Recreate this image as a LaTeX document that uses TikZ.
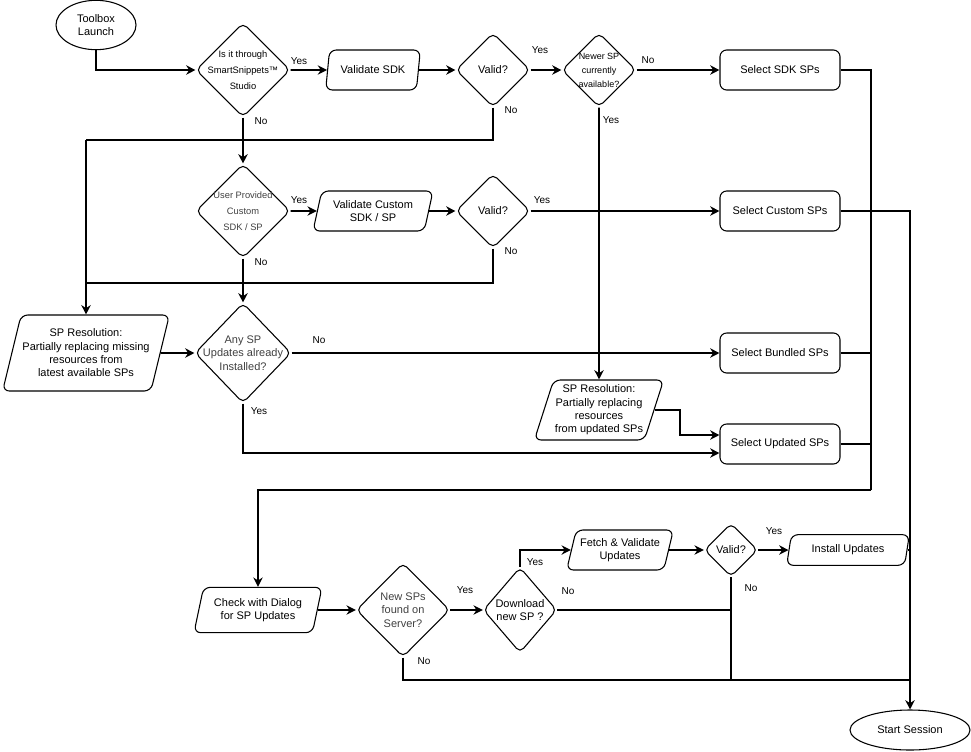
\documentclass[tikz,border=0pt]{standalone}
\usepackage{fontspec}
\setmainfont{Liberation Sans}
\usetikzlibrary{shapes.geometric,arrows.meta}

\tikzset{
  flow/.style={line width=1.4pt,-{Stealth[length=7pt,width=7pt]}},
  line/.style={line width=1.4pt},
  dia/.style={diamond,draw,line width=0.8pt,rounded corners=4pt,inner sep=0pt,minimum size=#1},
  io/.style={trapezium,trapezium left angle=70,trapezium right angle=110,trapezium stretches body,
    draw,line width=0.8pt,rounded corners=5pt,align=center,inner sep=1pt},
  act/.style={rectangle,draw,line width=0.8pt,rounded corners=5pt,minimum width=90pt,minimum height=30pt},
  term/.style={ellipse,draw,line width=0.8pt,align=center},
  txt/.style={align=center,font=\fontsize{8.25}{10}\selectfont},
  small/.style={align=center,font=\fontsize{7}{12}\selectfont},
  lbl/.style={font=\fontsize{7.5}{9}\selectfont}
}

\begin{document}
\begin{tikzpicture}[x=0.75pt,y=-0.75pt,txt]
  \useasboundingbox (0,0) rectangle (971,751);
  % shapes
  \node[term,minimum width=60pt,minimum height=37pt] (launch) at (96,25) {Toolbox\\Launch};
  \node[dia=70.5pt] (studio) at (243,70) {};
  \node[small] at (243,70) {Is it through\\SmartSnippets™\\Studio};
  \node[io,minimum width=71pt,minimum height=30pt] (valsdk) at (373,70) {Validate SDK};
  \node[dia=55.5pt] (valid1) at (493,70) {};
  \node at (493,70) {Valid?};
  \node[dia=55.5pt] (newer) at (599,70) {};
  \node[small,font=\fontsize{6.75}{10.5}\selectfont] at (599,70) {Newer SP\\currently\\available?};
  \node[act] (sdksp) at (780,70) {Select SDK SPs};
  \node[dia=70.5pt] (custom) at (243,211) {};
  \node[small,text=black!75] at (243,211) {User Provided\\Custom\\SDK / SP};
  \node[io,minimum width=90pt,minimum height=30pt] (valcust) at (373,211) {Validate Custom\\SDK / SP};
  \node[dia=55.5pt] (valid2) at (493,211) {};
  \node at (493,211) {Valid?};
  \node[act] (custsp) at (780,211) {Select Custom SPs};
  \node[io,minimum width=112pt,minimum height=57pt] (resol) at (86,353) {SP Resolution:\\Partially replacing missing\\resources from\\latest available SPs};
  \node[dia=73pt,minimum height=75pt,minimum width=72pt] (anysp) at (243,353) {};
  \node[text=black!75] at (243,353) {Any SP\\Updates already\\Installed?};
  \node[act] (bundsp) at (780,353) {Select Bundled SPs};
  \node[io,minimum width=96pt,minimum height=45pt] (resol2) at (599,410) {SP Resolution:\\Partially replacing\\resources\\from updated SPs};
  \node[act] (updsp) at (780,444) {Select Updated SPs};
  \node[io,minimum width=96pt,minimum height=34pt] (check) at (258,610) {Check with Dialog\\for SP Updates};
  \node[dia=70.5pt,minimum width=70pt] (newsp) at (403,610) {};
  \node[text=black!75] at (403,610) {New SPs\\found on\\Server?};
  \node[dia=55.5pt,minimum width=55pt,minimum height=64pt] (download) at (520,610) {};
  \node at (520,610) {Download\\new SP ?};
  \node[io,minimum width=80pt,minimum height=30pt] (fetch) at (620,550) {Fetch \& Validate\\Updates};
  \node[dia=40pt,minimum height=40pt] (valid3) at (731,550) {};
  \node at (731,550) {Valid?};
  \node[io,minimum width=92pt,minimum height=23pt] (install) at (848,550) {Install Updates};
  \node[term,minimum width=90pt,minimum height=30pt] (start) at (910,730) {Start Session};
  % junctions
  \coordinate (j1) at (86,140);
  \coordinate (j2) at (871,490);
  \coordinate (j3) at (910,680);
  % top row
  \draw[flow] (launch.south) |- (studio.west);
  \draw[flow] (studio.east) -- (valsdk.west);
  \draw[flow] (valsdk.east) -- (valid1.west);
  \draw[flow] (valid1.east) -- (newer.west);
  \draw[flow] (newer.east) -- (sdksp.west);
  \draw[flow] (studio.south) -- (custom.north);
  \draw[line] (valid1.south) |- (j1);
  \draw[flow] (j1) -- (resol.north);
  % second row
  \draw[flow] (custom.east) -- (valcust.west);
  \draw[flow] (valcust.east) -- (valid2.west);
  \draw[flow] (valid2.east) -- (custsp.west);
  \draw[line] (valid2.south) |- (86,283);
  \draw[flow] (custom.south) -- (anysp.north);
  % third row
  \draw[flow] (resol.east) -- (anysp.west);
  \draw[flow] (anysp.east) -- (bundsp.west);
  \draw[flow] (newer.south) -- (resol2.north);
  \draw[flow] (resol2.east) -| (680,435) -- (updsp.west |- 0,435);
  \draw[flow] (anysp.south) |- (updsp.west |- 0,453);
  % right bus
  \draw[line] (sdksp.east) -| (j2);
  \draw[line] (bundsp.east) -- (871,353);
  \draw[line] (updsp.east) -- (871,444);
  \draw[flow] (j2) -| (check.north);
  \draw[flow] (custsp.east) -| (start.north);
  % bottom row
  \draw[flow] (check.east) -- (newsp.west);
  \draw[flow] (newsp.east) -- (download.west);
  \draw[flow] (download.north) |- (fetch.west);
  \draw[flow] (fetch.east) -- (valid3.west);
  \draw[flow] (valid3.east) -- (install.west);
  \draw[line] (install.east) -- (910,550);
  \draw[line] (download.east) -- (731,610);
  \draw[line] (valid3.south) |- (j3);
  \draw[line] (newsp.south) |- (j3);
  % labels
  \node[lbl] at (299,61) {Yes};
  \node[lbl] at (261,121) {No};
  \node[lbl] at (540,50) {Yes};
  \node[lbl] at (511,110) {No};
  \node[lbl] at (648,60) {No};
  \node[lbl] at (611,120) {Yes};
  \node[lbl] at (299,200) {Yes};
  \node[lbl] at (261,262) {No};
  \node[lbl] at (542,200) {Yes};
  \node[lbl] at (511,251) {No};
  \node[lbl] at (319,340) {No};
  \node[lbl] at (259,411) {Yes};
  \node[lbl] at (535,562) {Yes};
  \node[lbl] at (568,591) {No};
  \node[lbl] at (465,590) {Yes};
  \node[lbl] at (424,661) {No};
  \node[lbl] at (774,531) {Yes};
  \node[lbl] at (751,588) {No};
\end{tikzpicture}
\end{document}
